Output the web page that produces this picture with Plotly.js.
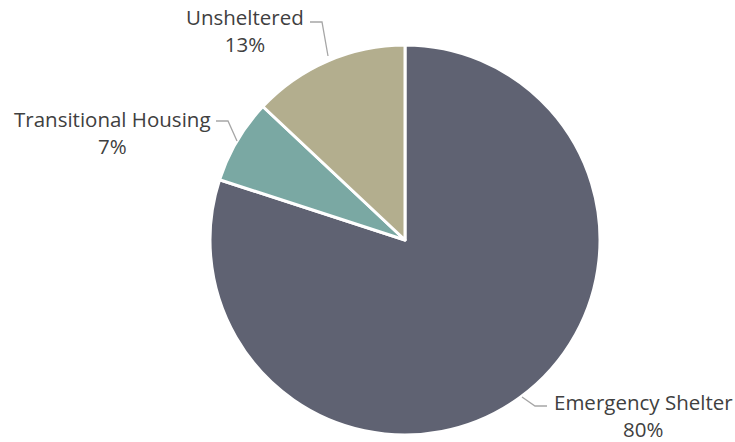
<!DOCTYPE html>
<html>
<head>
<meta charset="utf-8">
<script src="https://cdn.plot.ly/plotly-3.0.1.min.js"></script>
<style>html,body{margin:0;padding:0;background:#fff;}#chart{width:735px;height:442px;}</style>
</head>
<body>
<div id="chart"></div>
<script>
const categories = ["Emergency Shelter", "Transitional Housing", "Unsheltered"];
const values = [80, 7, 13];
const colors = ["#5f6272", "#7aa8a3", "#b3ae8e"];

const W = 735, H = 442;
const px = x => x / W;
const py = y => 1 - y / H;

const total = values.reduce((a, b) => a + b, 0);
const pct = values.map(v => Math.round(v / total * 100) + "%");

const labelPos = [[643, 415], [112, 132], [245, 31]];
const leaders = [
  [[547, 406], [535, 406], [522, 397]],
  [[216, 121], [228, 121], [237, 141]],
  [[310, 22], [322, 22], [328, 56]]
];

const annotations = categories.map((c, i) => ({
  x: px(labelPos[i][0]), y: py(labelPos[i][1]), xref: "paper", yref: "paper",
  text: c + "<br>" + pct[i], showarrow: false, xanchor: "center", yanchor: "middle",
  font: {family: "'Open Sans', sans-serif", size: 20.5, color: "#404040"}
}));

const shapes = leaders.map(pts => ({
  type: "path", xref: "paper", yref: "paper",
  path: "M " + pts.map(p => px(p[0]) + "," + py(p[1])).join(" L "),
  line: {color: "#a6a6a6", width: 1.3}
}));

const data = [{
  type: "pie",
  labels: categories,
  values: values,
  sort: false,
  direction: "clockwise",
  rotation: 0,
  textinfo: "none",
  hoverinfo: "label+percent",
  marker: {colors: colors, line: {color: "#ffffff", width: 3}},
  domain: {x: [px(210), px(600)], y: [py(435), py(45)]}
}];

const layout = {
  width: W, height: H,
  margin: {l: 0, r: 0, t: 0, b: 0},
  paper_bgcolor: "#ffffff",
  showlegend: false,
  annotations: annotations,
  shapes: shapes
};

Plotly.newPlot("chart", data, layout, {displayModeBar: false, staticPlot: true});
</script>
</body>
</html>
